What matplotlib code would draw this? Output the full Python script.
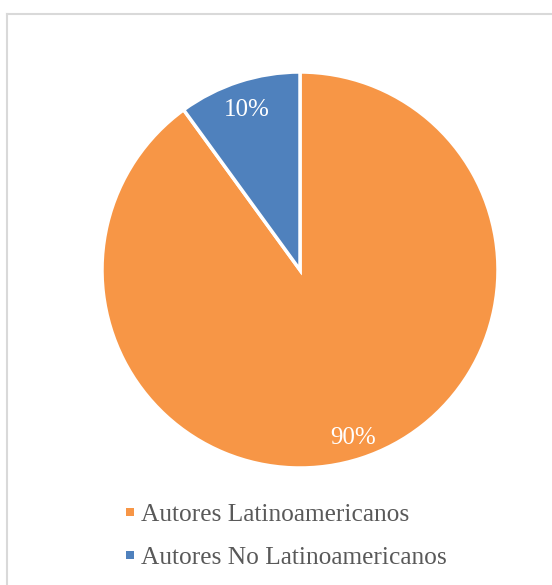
import matplotlib
matplotlib.use("Agg")
import matplotlib.pyplot as plt
from matplotlib.lines import Line2D
from matplotlib.patches import Rectangle

categories = ["Autores Latinoamericanos", "Autores No Latinoamericanos"]
values = [90, 10]
colors = ["#F79646", "#4F81BD"]

W, H = 552, 585
fig = plt.figure(figsize=(W / 100, H / 100), dpi=100)
fig.patch.set_facecolor("white")

# chart border (top and left visible)
fig.add_artist(Line2D([6.5 / W, 6.5 / W], [0, 1 - 13.5 / H], color="#D9D9D9", lw=1.5, transform=fig.transFigure))
fig.add_artist(Line2D([6.5 / W, 1], [1 - 13.5 / H, 1 - 13.5 / H], color="#D9D9D9", lw=1.5, transform=fig.transFigure))

cx, cy, r = 300, 270, 198
ax = fig.add_axes([(cx - r) / W, 1 - (cy + r) / H, 2 * r / W, 2 * r / H])
wedges, texts, autotexts = ax.pie(
    values, colors=colors, startangle=90, counterclock=False,
    autopct=lambda p: f"{p:.0f}%", pctdistance=0.87,
    wedgeprops=dict(edgecolor="white", linewidth=2.5),
    textprops=dict(color="white", fontsize=18, family="Liberation Serif"),
)
for t in autotexts:
    x, y = t.get_position()
    t.set_position((x, y - 0.02))
ax.set_aspect("equal")
ax.set_xlim(-1, 1)
ax.set_ylim(-1, 1)
ax.axis("off")

# legend
rows_y = [512, 555]
for cat, col, y in zip(categories, colors, rows_y):
    fig.add_artist(Rectangle((126 / W, 1 - (y + 4) / H), 8 / W, 8 / H,
                             facecolor=col, edgecolor="none", transform=fig.transFigure))
    fig.text(141 / W, 1 - (y + 3) / H, cat, fontsize=18.3, color="#595959",
             family="Liberation Serif", va="center", ha="left")

fig.savefig("out.png", dpi=100)
